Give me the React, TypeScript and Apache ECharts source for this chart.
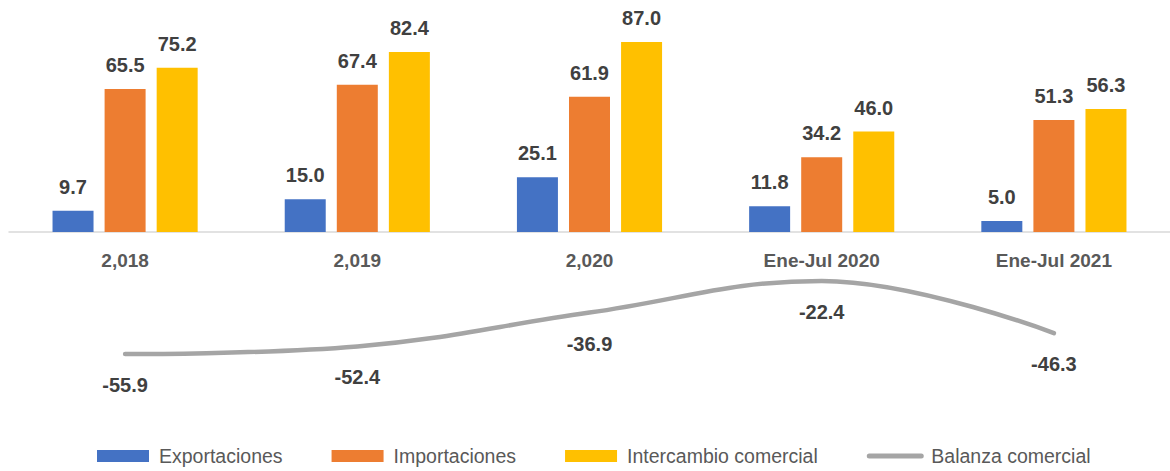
import React, { useEffect, useRef } from "react";
import * as echarts from "echarts";

const categories = ["2,018", "2,019", "2,020", "Ene-Jul 2020", "Ene-Jul 2021"];
const exportaciones = [9.7, 15.0, 25.1, 11.8, 5.0];
const importaciones = [65.5, 67.4, 61.9, 34.2, 51.3];
const intercambio = [75.2, 82.4, 87.0, 46.0, 56.3];
const balanza = [-55.9, -52.4, -36.9, -22.4, -46.3];

const FONT = "'Liberation Sans', Arial, sans-serif";

export default function App() {
  const ref = useRef<HTMLDivElement>(null);
  useEffect(() => {
    if (!ref.current) return;
    const chart = echarts.init(ref.current, undefined, { renderer: "svg" });
    const barLabel = {
      show: true,
      position: "top",
      distance: 14,
      formatter: (p: any) => Number(p.value).toFixed(1),
      fontFamily: FONT,
      fontSize: 20,
      fontWeight: "bold",
      color: "#404040",
    };
    chart.setOption({
      animation: false,
      textStyle: { fontFamily: FONT },
      grid: { left: 9, width: 1169, top: 13.6, height: 218.4, containLabel: false },
      legend: {
        left: 92,
        top: 441,
        itemWidth: 52,
        itemHeight: 12,
        itemGap: 49,
        textStyle: { fontFamily: FONT, fontSize: 19.5, color: "#595959", padding: [0, 0, 0, 5] },
        data: [
          { name: "Exportaciones", icon: "rect" },
          { name: "Importaciones", icon: "rect" },
          { name: "Intercambio comercial", icon: "rect" },
          { name: "Balanza comercial", itemStyle: { opacity: 0 }, lineStyle: { width: 5, cap: "round" } },
        ],
      },
      xAxis: {
        type: "category",
        data: categories,
        axisLine: { lineStyle: { color: "#d9d9d9", width: 1.5 } },
        axisTick: { show: false },
        axisLabel: {
          margin: 19,
          fontFamily: FONT,
          fontSize: 19,
          fontWeight: "bold",
          color: "#595959",
        },
      },
      yAxis: { type: "value", min: 0, max: 100, show: false, splitLine: { show: false } },
      series: [
        {
          name: "Exportaciones",
          type: "bar",
          data: exportaciones,
          barWidth: 41,
          barGap: "27%",
          itemStyle: { color: "#4472c4" },
          label: barLabel,
        },
        {
          name: "Importaciones",
          type: "bar",
          data: importaciones,
          barWidth: 41,
          barGap: "27%",
          itemStyle: { color: "#ed7d31" },
          label: barLabel,
        },
        {
          name: "Intercambio comercial",
          type: "bar",
          data: intercambio,
          barWidth: 41,
          barGap: "27%",
          itemStyle: { color: "#ffc000" },
          label: barLabel,
        },
        {
          name: "Balanza comercial",
          type: "line",
          data: balanza,
          clip: false,
          smooth: 0.4,
          symbol: "circle",
          symbolSize: 2,
          showSymbol: true,
          itemStyle: { color: "#a5a5a5" },
          lineStyle: { color: "#a5a5a5", width: 4.5, cap: "round" },
          label: {
            show: true,
            position: "bottom",
            distance: 20,
            formatter: (p: any) => Number(p.value).toFixed(1),
            fontFamily: FONT,
            fontSize: 20,
            fontWeight: "bold",
            color: "#404040",
          },
        },
      ],
    });
    return () => chart.dispose();
  }, []);
  return (
    <div
      ref={ref}
      style={{ position: "absolute", left: 0, top: 0, width: 1170, height: 471 }}
    />
  );
}
